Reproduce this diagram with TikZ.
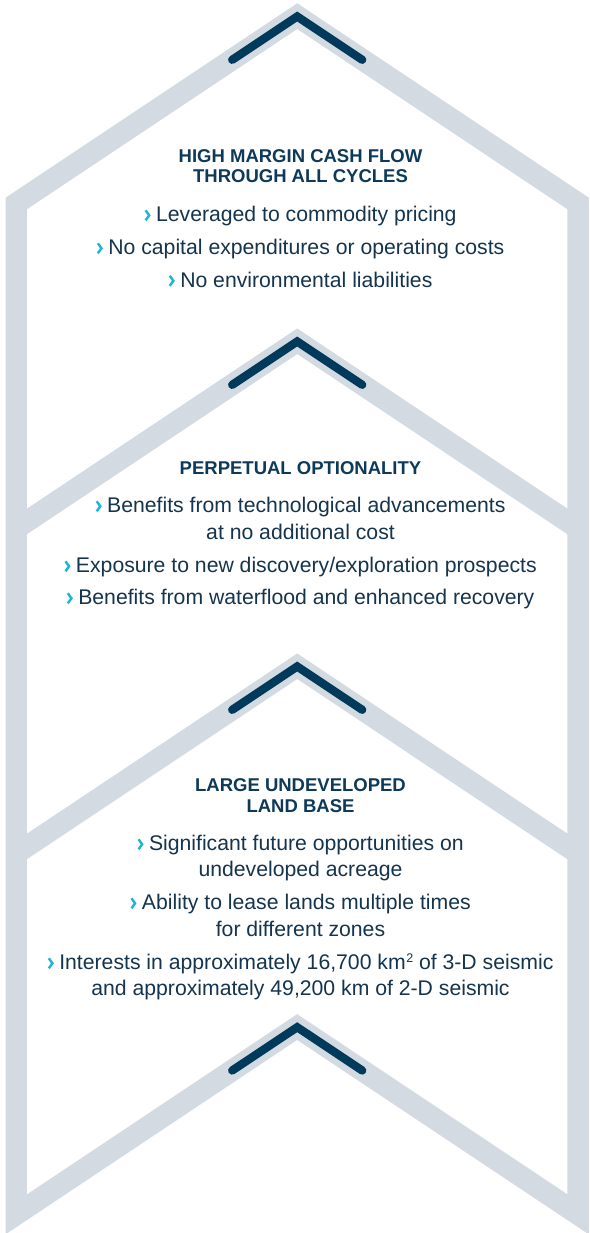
\documentclass[tikz,border=0pt]{standalone}
\usepackage{fontspec}
\setmainfont{Liberation Sans}
\definecolor{bandgray}{HTML}{D3DAE2}
\definecolor{chevnavy}{HTML}{003A5A}
\definecolor{titlenavy}{HTML}{0D3A58}
\definecolor{bodyblue}{HTML}{15344D}
\definecolor{bulletcyan}{HTML}{1BB4DA}
\newcommand\mybul{\tikz[baseline=0pt,x=1pt,y=1pt]{\path (-0.5,0) rectangle (5,12);\draw[bulletcyan,line width=2.4pt,line join=miter,line cap=butt] (0,1.2) -- (3.6,6.2) -- (0,11.2);}\hspace{5.5pt}}
\newcommand\mysq{\hspace{0.5pt}\raisebox{6.8pt}{\fontsize{12.5}{12.5}\selectfont 2}}
\begin{document}
\begin{tikzpicture}[x=1pt,y=-1pt,
  ttl/.style={font=\fontsize{18.5}{20}\selectfont\bfseries, text=titlenavy, anchor=base, inner sep=0pt},
  itm/.style={font=\fontsize{21.2}{26}\selectfont, text=bodyblue, anchor=base, inner sep=0pt},
  darkchev/.style={draw=chevnavy, line width=8.3pt, line cap=round, line join=miter}]
\useasboundingbox (0,0) rectangle (589,1233);
% light band: outer arrow shape
\fill[bandgray] (297.2,3.3) -- (588.8,197.7) -- (588.8,1234.3) -- (297.2,1039.9)
  -- (5.6,1234.3) -- (5.6,197.7) -- cycle;
% white panels
\fill[white] (297.2,29.2) -- (567.3,209.3) -- (567.3,508.4) -- (297.2,328.3)
  -- (27.1,508.4) -- (27.1,209.3) -- cycle;
\fill[white] (297.2,354.2) -- (567.3,534.3) -- (567.3,833.4) -- (297.2,653.3)
  -- (27.1,833.4) -- (27.1,534.3) -- cycle;
\fill[white] (297.2,679.2) -- (567.3,859.3) -- (567.3,1194.1) -- (297.2,1014)
  -- (27.1,1194.1) -- (27.1,859.3) -- cycle;
% dark chevrons
\draw[darkchev] (232.2,59.8) -- (297.2,16.5) -- (362.2,59.8);
\draw[darkchev] (232.2,384.8) -- (297.2,341.5) -- (362.2,384.8);
\draw[darkchev] (232.2,709.8) -- (297.2,666.5) -- (362.2,709.8);
\draw[darkchev] (232.2,1070.5) -- (297.2,1027.2) -- (362.2,1070.5);
% panel 1
\node[ttl] (t1a) at (300.5,162.2) {HIGH MARGIN CASH FLOW};
\node[ttl] (t1b) at (300.5,182.5) {THROUGH ALL CYCLES};
\node[itm] (b1a) at (300.5,221.5) {\mybul Leveraged to commodity pricing};
\node[itm] (b1b) at (300.5,254.5) {\mybul No capital expenditures or operating costs};
\node[itm] (b1c) at (300.5,287) {\mybul No environmental liabilities};
% panel 2
\node[ttl] (t2a) at (300.5,474) {PERPETUAL OPTIONALITY};
\node[itm] (b2a) at (300.5,512.5) {\mybul Benefits from technological advancements};
\node[itm] (b2b) at (300.5,539) {at no additional cost};
\node[itm] (b2c) at (300.5,572.5) {\mybul Exposure to new discovery/exploration prospects};
\node[itm] (b2d) at (300.5,604.5) {\mybul Benefits from waterflood and enhanced recovery};
% panel 3
\node[ttl] (t3a) at (300.5,791.5) {LARGE UNDEVELOPED};
\node[ttl] (t3b) at (300.5,812) {LAND BASE};
\node[itm] (b3a) at (300.5,850.5) {\mybul Significant future opportunities on};
\node[itm] (b3b) at (300.5,876.5) {undeveloped acreage};
\node[itm] (b3c) at (300.5,909.5) {\mybul Ability to lease lands multiple times};
\node[itm] (b3d) at (300.5,936) {for different zones};
\node[itm] (b3e) at (300.5,969.5) {\mybul Interests in approximately 16,700 km\mysq{} of 3-D seismic};
\node[itm] (b3f) at (300.5,995.5) {and approximately 49,200 km of 2-D seismic};
\end{tikzpicture}
\end{document}
